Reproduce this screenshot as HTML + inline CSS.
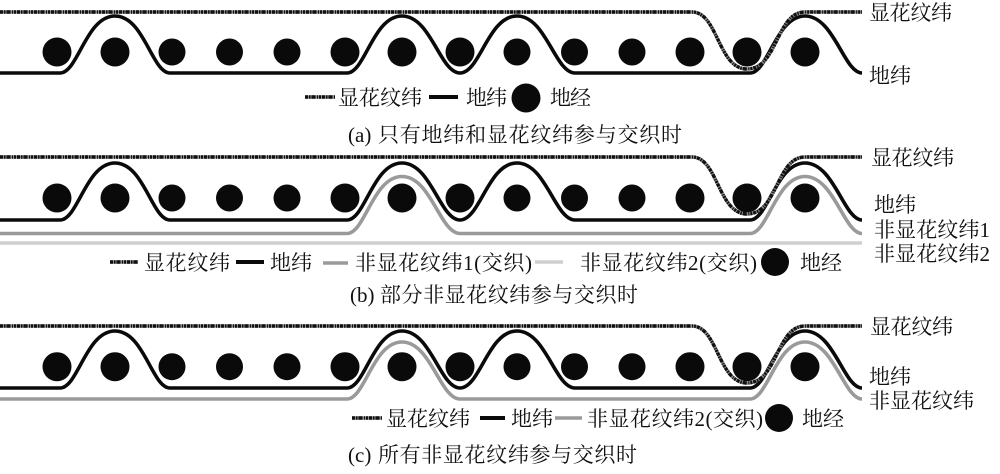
<!DOCTYPE html>
<html><head><meta charset="utf-8"><style>
html,body{margin:0;padding:0;background:#fff;width:1000px;height:474px;overflow:hidden}
svg{display:block;filter:blur(0.35px)}
text{font-family:"Liberation Serif","Noto Serif CJK SC",serif;font-size:21px;fill:#111}
.g{fill:none;stroke:#0a0a0a;stroke-width:3.6}
.s{fill:none;stroke:#9a9a9a;stroke-width:3.6}
.l{fill:none;stroke:#cfcfcf;stroke-width:3.6}
.f1{fill:none;stroke:#8a8a8a;stroke-width:3.4}
.f2{fill:none;stroke:#111;stroke-width:3.4;stroke-dasharray:3 1 1.5 1 4 1.5 1 1 2 1}
</style></head><body>
<svg width="1000" height="474" viewBox="0 0 1000 474" xmlns="http://www.w3.org/2000/svg">
<defs>
<path id="gd" d="M0 0H60C78 0 86 -57 115 -57C144 -57 152 0 170 0H347C365 0 373 -57 402 -57C431 -57 440 0 460 0C480 0 488 -57 517 -57C546 -57 555 0 575 0H750C768 0 776 -57 805 -57C834 -57 844 0 862 0"/>
<path id="gy" d="M0 0H347C365 0 373 -57 402 -57C431 -57 440 0 460 0H750C768 0 776 -57 805 -57C834 -57 844 0 862 0"/>
<path id="fl" d="M0 0H692C718 0 718 57 747 57C778 57 776 0 805 0H862"/>
<g id="dots" fill="#0a0a0a">
<circle cx="57" cy="0" r="14.5"/><circle cx="115" cy="0" r="14.5"/><circle cx="172" cy="0" r="13.5"/><circle cx="229.500" cy="0" r="13.500"/><circle cx="287" cy="0" r="13.500"/><circle cx="345" cy="0" r="14.500"/><circle cx="402" cy="0" r="14.500"/><circle cx="460" cy="0" r="14.500"/><circle cx="517" cy="0" r="13.500"/><circle cx="574.500" cy="0" r="13.500"/><circle cx="632" cy="0" r="13.500"/><circle cx="690" cy="0" r="14.500"/><circle cx="747" cy="0" r="14.500"/><circle cx="805" cy="0" r="14.500"/>
</g>
</defs>

<!-- panel a -->
<use href="#dots" y="52"/>
<use href="#gd" y="73" class="g"/>
<use href="#fl" y="12" class="f1"/>
<use href="#fl" y="12" class="f2"/>
<text x="869" y="20" textLength="83">显花纹纬</text>
<text x="869" y="83" textLength="42">地纬</text>
<path d="M305 97H335" class="f1"/><path d="M305 97H335" class="f2"/>
<text x="338" y="105" textLength="84">显花纹纬</text>
<path d="M429 97H458" class="g" style="stroke-width:4"/>
<text x="466" y="105" textLength="41">地纬</text>
<circle cx="526" cy="98" r="14.500" fill="#0a0a0a"/>
<text x="550" y="105" textLength="41">地经</text>
<text x="348" y="142">(a)</text>
<text x="378" y="142" textLength="304">只有地纬和显花纹纬参与交织时</text>

<!-- panel b -->
<use href="#dots" y="198"/>
<path d="M0 243H862" class="l"/>
<use href="#gy" y="233.500" class="s"/>
<use href="#gd" y="220" class="g"/>
<use href="#fl" y="157" class="f1"/>
<use href="#fl" y="157" class="f2"/>
<text x="871" y="165" textLength="83">显花纹纬</text>
<text x="874" y="212" textLength="42">地纬</text>
<text x="874" y="237" textLength="116">非显花纹纬1</text>
<text x="874" y="261" textLength="116">非显花纹纬2</text>
<path d="M110 262H138" class="f1"/><path d="M110 262H138" class="f2"/>
<text x="144" y="270" textLength="86">显花纹纬</text>
<path d="M236 262H264" class="g" style="stroke-width:4"/>
<text x="270" y="270" textLength="42">地纬</text>
<path d="M323 263H348" class="s"/>
<text x="355" y="270" textLength="177">非显花纹纬1(交织)</text>
<path d="M535 262H563" class="l"/>
<text x="580" y="270" textLength="177">非显花纹纬2(交织)</text>
<circle cx="775" cy="262" r="14" fill="#0a0a0a"/>
<text x="800" y="270" textLength="42">地经</text>
<text x="350" y="302">(b)</text>
<text x="380" y="302" textLength="258">部分非显花纹纬参与交织时</text>

<!-- panel c -->
<use href="#dots" y="366.700"/>
<use href="#gy" y="399" class="s"/>
<use href="#gd" y="388" class="g"/>
<use href="#fl" y="326" class="f1"/>
<use href="#fl" y="326" class="f2"/>
<text x="870" y="334" textLength="83">显花纹纬</text>
<text x="869" y="384" textLength="42">地纬</text>
<text x="869" y="408" textLength="105">非显花纹纬</text>
<path d="M352 418H382" class="f1"/><path d="M352 418H382" class="f2"/>
<text x="386" y="426" textLength="84">显花纹纬</text>
<path d="M480 418H505" class="g" style="stroke-width:4"/>
<text x="511" y="426" textLength="42">地纬</text>
<path d="M555 418H582" class="s"/>
<text x="587" y="426" textLength="176">非显花纹纬2(交织)</text>
<circle cx="779" cy="418" r="14" fill="#0a0a0a"/>
<text x="802" y="426" textLength="42">地经</text>
<text x="348" y="462">(c)</text>
<text x="378" y="462" textLength="259">所有非显花纹纬参与交织时</text>
</svg>
</body></html>
